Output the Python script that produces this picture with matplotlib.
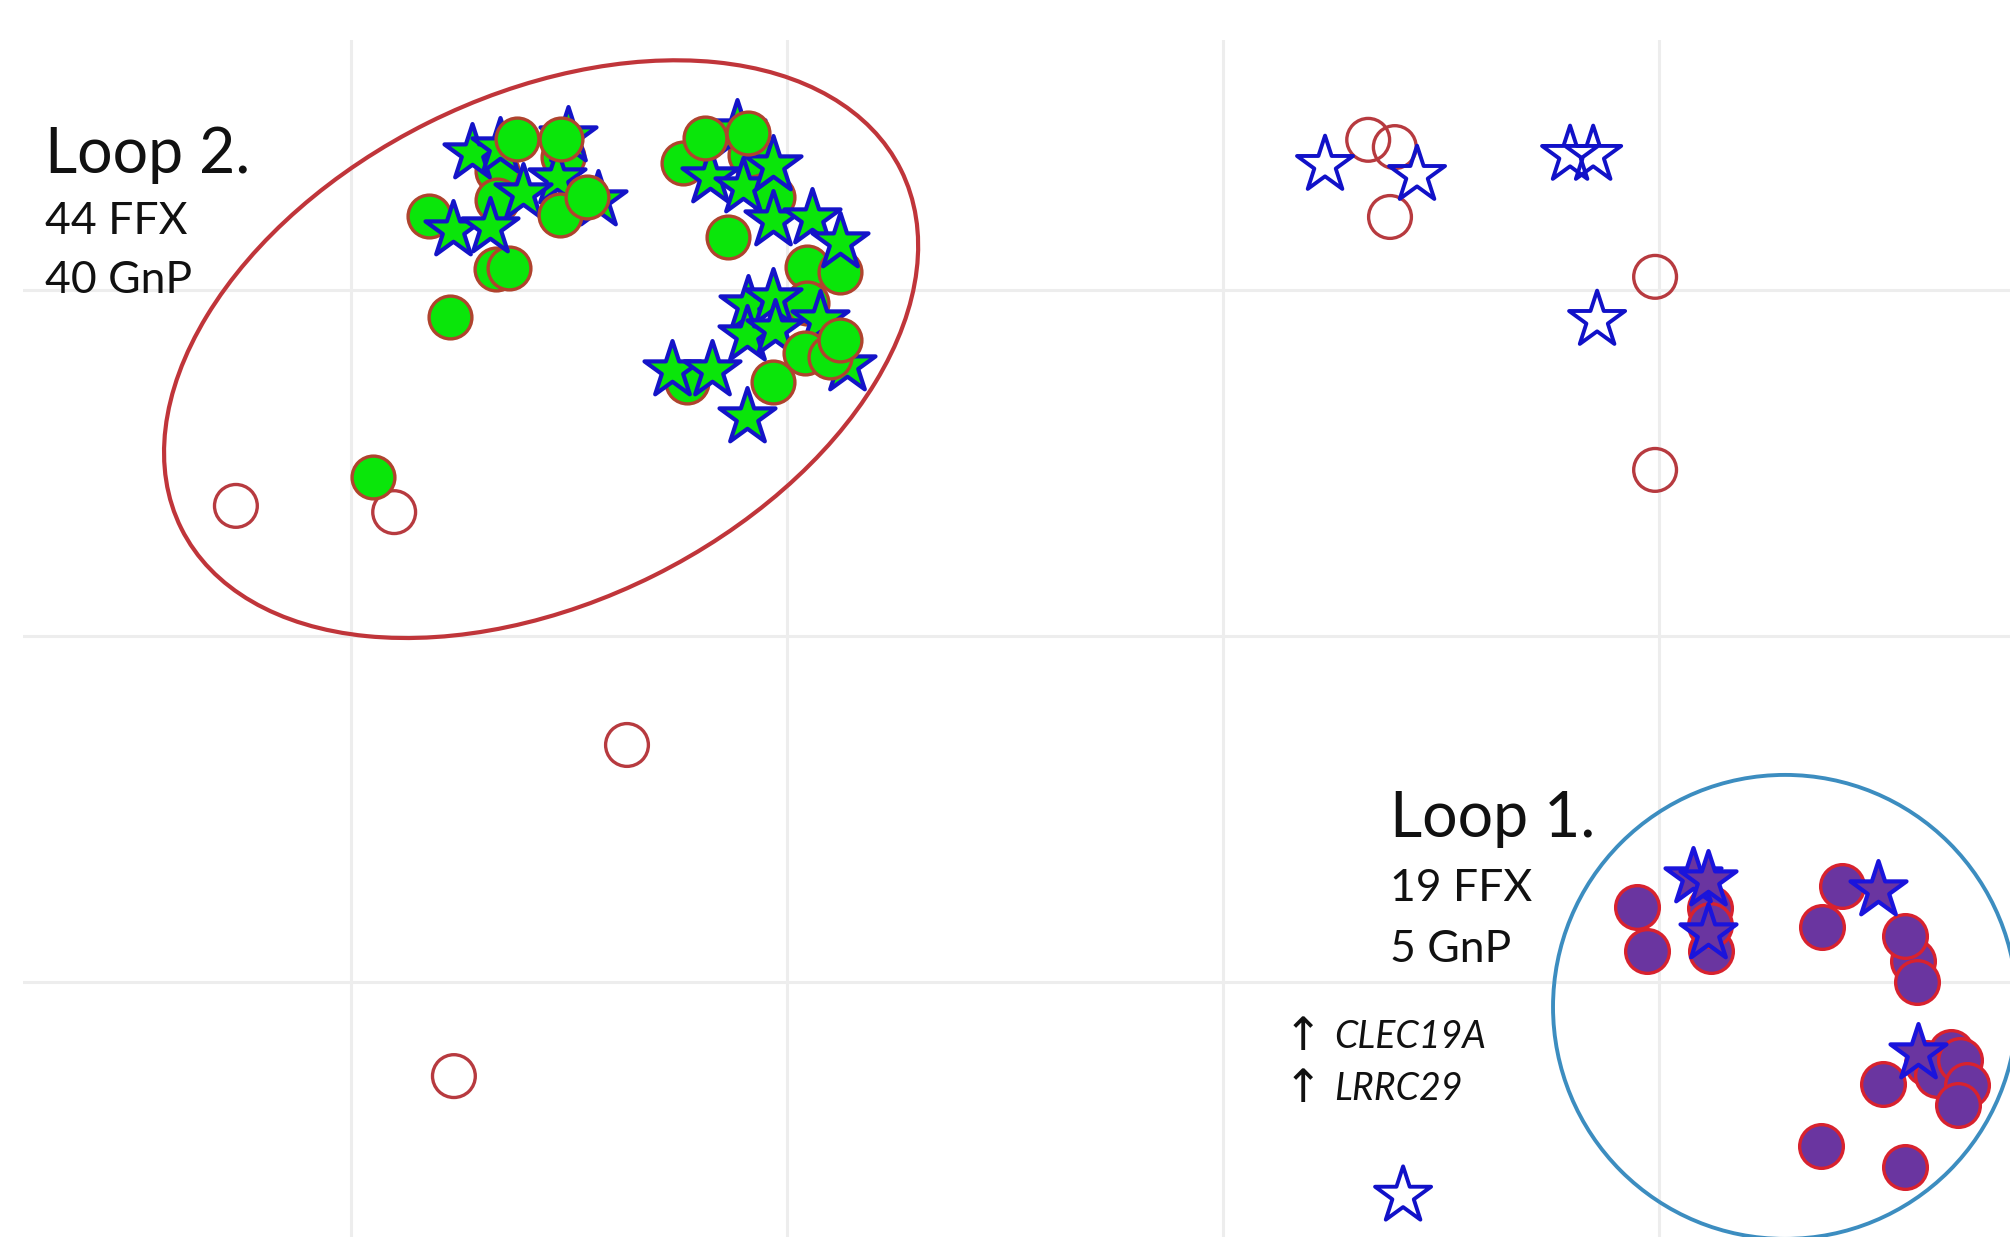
import numpy as np
import matplotlib
matplotlib.use("Agg")
import matplotlib.pyplot as plt
from matplotlib import transforms
from matplotlib.patches import Ellipse, Circle

plt.rcParams["font.family"] = ["Lato", "DejaVu Sans"]

# ---------------- data (grid units) ----------------
# Loop 2 samples, listed in drawing order (FFX = circle, GnP = star)
loop2_x = [-0.665, -0.665, -0.821, -0.667, -0.638, -0.514, -0.239, -0.085, -0.032, 0.046,
           0.122, 0.046, -0.135, -0.229, -0.032, -0.773, -0.950,
           -0.722, -0.502, -0.528, -0.606, -0.766, -0.681, -0.433, -0.658,
           -0.115, -0.177, -0.101, -0.032, -0.032, 0.057, 0.122, -0.089, -0.032,
           -0.092, -0.028, 0.076, -0.264, -0.172, -0.092, 0.138,
           -0.619, -0.518, -0.521, -0.459, -0.188, -0.089, 0.041, 0.099, 0.122]
loop2_y = [1.344, 1.260, 1.214, 1.061, 1.064, 1.384, 1.367, 1.390, 1.269, 1.066,
           1.052, 0.962, 1.153, 0.734, 0.734, 0.922, 0.460,
           1.396, 1.445, 1.324, 1.280, 1.173, 1.182, 1.260, 1.413,
           1.465, 1.327, 1.298, 1.361, 1.202, 1.208, 1.139, 0.957, 0.977,
           0.870, 0.887, 0.913, 0.769, 0.769, 0.633, 0.783,
           1.436, 1.436, 1.217, 1.269, 1.439, 1.454, 0.818, 0.806, 0.855]
loop2_type = (["FFX"] * 17) + (["GnP"] * 24) + (["FFX"] * 9)

# Loop 1 : FFX samples (purple circles)
loop1_ffx_x = [2.583, 1.950, 1.972, 2.117, 2.119, 2.117, 2.420, 2.374, 2.564, 2.592,
               2.514, 2.615, 2.670, 2.638, 2.690, 2.706, 2.686, 2.372, 2.564]
loop1_ffx_y = [-0.939, -0.783, -0.910, -0.786, -0.910, -0.835, -0.723, -0.841, -0.867, -1.000,
               -1.295, -1.234, -1.202, -1.269, -1.225, -1.298, -1.355, -1.474, -1.535]
# Loop 1 : GnP samples (purple stars)
loop1_gnp_x = [2.078, 2.112, 2.112, 2.502, 2.594]
loop1_gnp_y = [-0.697, -0.705, -0.858, -0.734, -1.205]

# Unassigned samples
other_ffx_x = [-1.264, -0.901, -0.367, -0.764, 1.333, 1.394, 1.383, 1.991, 1.991]
other_ffx_y = [0.376, 0.358, -0.315, -1.272, 1.434, 1.413, 1.211, 1.038, 0.480]
other_gnp_x = [1.234, 1.445, 1.796, 1.849, 1.858, 1.413]
other_gnp_y = [1.361, 1.332, 1.390, 1.390, 0.913, -1.618]

grid_x = [-1, 0, 1, 2]
grid_y = [-1, 0, 1]

loop2_labels = ["Loop 2.", "44 FFX", "40 GnP"]
loop1_labels = ["Loop 1.", "19 FFX", "5 GnP"]
genes = ["CLEC19A", "LRRC29"]

# ---------------- figure ----------------
W, H = 2010, 1237
fig = plt.figure(figsize=(W / 100, H / 100), dpi=100)
ax = fig.add_axes([23 / W, 0, 1 - 23 / W, 1 - 40 / H])
ax.set_xlim(-1.7523, 2.8050)
ax.set_ylim(-1.7370, 1.7225)
ax.set_xticks(grid_x)
ax.set_yticks(grid_y)
ax.tick_params(length=0, labelbottom=False, labelleft=False)
for s in ax.spines.values():
    s.set_visible(False)
ax.grid(True, color="#ededed", lw=2.2, zorder=0)
ax.set_axisbelow(True)

circ_s = 950
star_s = 1800

green = "#0ae60a"
circ_edge = "#b0432e"
star_edge = "#1414c8"

# open (unassigned) markers
ax.scatter(other_ffx_x, other_ffx_y, s=circ_s, marker="o", facecolors="none",
           edgecolors="#b73a3f", linewidths=2.4, zorder=3)
ax.scatter(other_gnp_x, other_gnp_y, s=star_s, marker="*", facecolors="none",
           edgecolors="#1111c8", linewidths=2.8, zorder=3)

# loop 2 (drawn sample by sample in list order)
for i, (x, y, t) in enumerate(zip(loop2_x, loop2_y, loop2_type)):
    if t == "FFX":
        ax.scatter([x], [y], s=circ_s, marker="o", facecolors=green,
                   edgecolors=circ_edge, linewidths=2.4, zorder=4 + i * 1e-3)
    else:
        ax.scatter([x], [y], s=star_s, marker="*", facecolors=green,
                   edgecolors=star_edge, linewidths=3.0, zorder=4 + i * 1e-3)

# loop 1
ax.scatter(loop1_ffx_x, loop1_ffx_y, s=circ_s + 40, marker="o", facecolors="#6a35a0",
           edgecolors="#d8222e", linewidths=2.4, zorder=4)
ax.scatter(loop1_gnp_x, loop1_gnp_y, s=star_s, marker="*", facecolors="#6a35a0",
           edgecolors="#1a14dc", linewidths=3.0, zorder=5)

# loop outlines (shapes defined in pixels, placed in data coordinates)
p0 = ax.transData.transform((0, 0))
px_x = ax.transData.transform((1, 0))[0] - p0[0]
px_y = ax.transData.transform((0, 1))[1] - p0[1]


def pix_tr(cx, cy):
    return transforms.Affine2D().scale(1 / px_x, 1 / px_y).translate(cx, cy) + ax.transData


ax.add_patch(Ellipse((0, 0), 804, 506, angle=26.5, fill=False, ec="#c0353a", lw=3.0,
                     transform=pix_tr(-0.564, 0.829), zorder=2, clip_on=False))
ax.add_patch(Circle((0, 0), 232, fill=False, ec="#3c8dc0", lw=2.8,
                    transform=pix_tr(2.289, -1.072), zorder=2, clip_on=False))

# labels
tc = "#111111"
ax.text(-1.702, 1.338, loop2_labels[0], fontsize=45, color=tc, va="baseline", ha="left")
ax.text(-1.702, 1.162, loop2_labels[1], fontsize=32, color=tc, va="baseline", ha="left")
ax.text(-1.702, 0.991, loop2_labels[2], fontsize=32, color=tc, va="baseline", ha="left")

ax.text(1.383, -0.581, loop1_labels[0], fontsize=45, color=tc, va="baseline", ha="left")
ax.text(1.383, -0.766, loop1_labels[1], fontsize=32, color=tc, va="baseline", ha="left")
ax.text(1.383, -0.942, loop1_labels[2], fontsize=32, color=tc, va="baseline", ha="left")

for gy, g in zip([-1.160, -1.310], genes):
    ax.text(1.138, gy, "\u2191", fontsize=33, color=tc, va="center", ha="left",
            family=["DejaVu Sans"])
    ax.text(1.254, gy, g, fontsize=27, color=tc, va="center", ha="left", style="italic")

fig.savefig("out.png", dpi=100, facecolor="white")
